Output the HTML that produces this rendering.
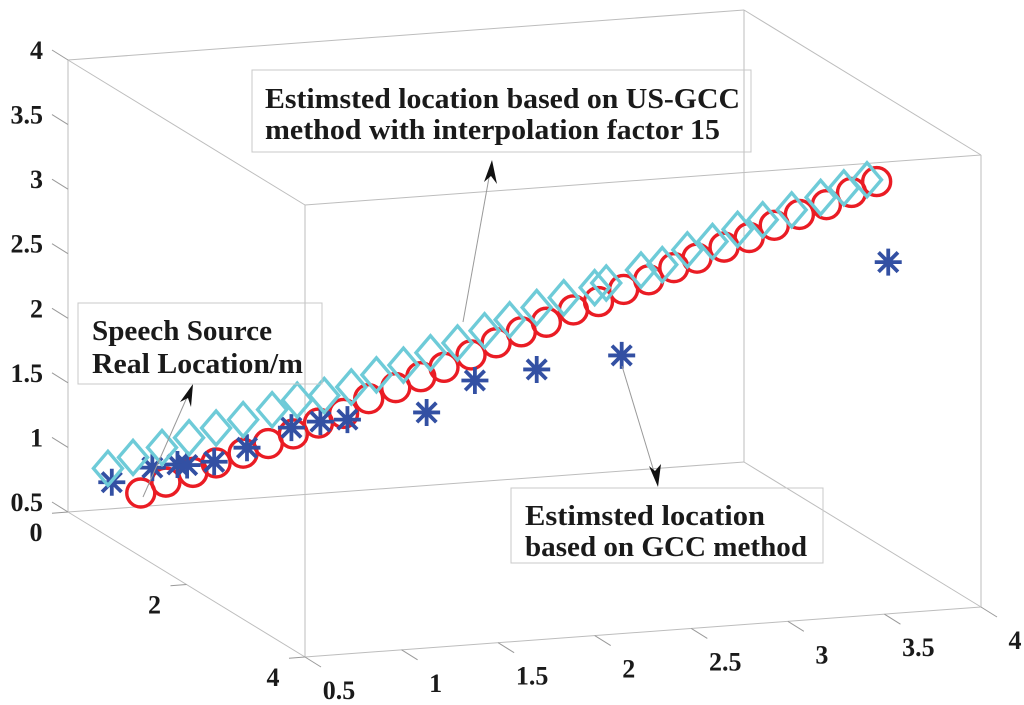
<!DOCTYPE html>
<html><head><meta charset="utf-8"><style>
html,body{margin:0;padding:0;background:#fff;}
svg{display:block;}
text{font-family:"Liberation Serif",serif;font-weight:bold;fill:#1a1a1a;}
</style></head><body>
<svg id="chart" width="1024" height="705" viewBox="0 0 1024 705" xmlns="http://www.w3.org/2000/svg">
<g id="box"></g>
<g id="ticks"></g>
<g id="marks"></g>
<g id="ann">
  <line x1="463" y1="322" x2="490" y2="172" stroke="#999" stroke-width="1"/>
  <polygon points="492,160 484,182 491,176 497,184" fill="#111"/>
  <line x1="143" y1="497" x2="188" y2="395" stroke="#999" stroke-width="1"/>
  <polygon points="193,384 180,402 188,398 191,407" fill="#111"/>
  <line x1="622" y1="366" x2="655" y2="475" stroke="#999" stroke-width="1"/>
  <polygon points="658,487 649,466 655,471 661,464" fill="#111"/>
  <rect x="252" y="70" width="499" height="82" fill="none" stroke="#c8c8c8" stroke-width="1"/>
  <text x="265" y="108" font-size="28" textLength="475" lengthAdjust="spacingAndGlyphs">Estimsted location based on US-GCC</text>
  <text x="265" y="139" font-size="28" textLength="455" lengthAdjust="spacingAndGlyphs">method with interpolation factor 15</text>
  <rect x="78" y="303" width="244" height="81" fill="none" stroke="#c8c8c8" stroke-width="1"/>
  <text x="92" y="340" font-size="28" textLength="180" lengthAdjust="spacingAndGlyphs">Speech Source</text>
  <text x="92" y="373" font-size="28" textLength="211" lengthAdjust="spacingAndGlyphs">Real Location/m</text>
  <rect x="511" y="488" width="312" height="75" fill="none" stroke="#c8c8c8" stroke-width="1"/>
  <text x="525" y="525" font-size="28" textLength="240" lengthAdjust="spacingAndGlyphs">Estimsted location</text>
  <text x="525" y="556" font-size="28" textLength="282" lengthAdjust="spacingAndGlyphs">based on GCC method</text>
</g>
</svg>
<script>
// tick values
const xTicks = [0.5, 1, 1.5, 2, 2.5, 3, 3.5, 4];
const xTickLabels = ["0.5","1","1.5","2","2.5","3","3.5","4"];
const yTicks = [0, 2, 4];
const yTickLabels = ["0","2","4"];
const zTicks = [0.5, 1, 1.5, 2, 2.5, 3, 3.5, 4];
const zTickLabels = ["0.5","1","1.5","2","2.5","3","3.5","4"];
// real location (circles)
const realX = [0.57,0.70,0.84,0.96,1.10,1.23,1.36,1.49,1.62,1.75,1.89,2.02,2.14,2.28,2.41,2.54,2.67,2.81,2.94,3.07,3.20,3.33,3.45,3.59,3.72,3.85,3.98,4.12,4.25,4.38];
const realZ = [0.92,0.99,1.05,1.11,1.17,1.23,1.29,1.36,1.42,1.52,1.59,1.66,1.72,1.80,1.88,1.95,2.01,2.09,2.14,2.22,2.28,2.36,2.42,2.49,2.55,2.63,2.70,2.76,2.84,2.91];
// US-GCC estimate (diamonds)
const usX = [0.40,0.53,0.68,0.82,0.96,1.10,1.25,1.38,1.52,1.66,1.79,1.93,2.07,2.21,2.35,2.48,2.62,2.76,2.92,2.98,3.16,3.27,3.40,3.53,3.66,3.79,3.94,4.09,4.21,4.33];
const usZ = [1.13,1.20,1.26,1.32,1.38,1.43,1.49,1.55,1.57,1.62,1.70,1.76,1.84,1.90,1.98,2.05,2.13,2.19,2.25,2.28,2.36,2.39,2.49,2.54,2.62,2.68,2.74,2.82,2.88,2.93];
// GCC estimate (stars)
const gccX = [0.42,0.63,0.76,0.81,0.95,1.12,1.35,1.50,1.64,2.05,2.30,2.62,3.06,4.44];
const gccZ = [1.02,1.11,1.12,1.11,1.12,1.21,1.34,1.37,1.37,1.38,1.60,1.65,1.71,2.28];
const depthY = 1;

const NS = "http://www.w3.org/2000/svg";
const O = [68,512], EX = [676,-50], EY = [237,145], EZ = [0,-452];
function proj(x,y,z){
  const a=(x-0.5)/3.5, b=y/4, c=(z-0.5)/3.5;
  return [O[0]+a*EX[0]+b*EY[0]+c*EZ[0], O[1]+a*EX[1]+b*EY[1]+c*EZ[1]];
}
function mk(tag,attrs,parent){const e=document.createElementNS(NS,tag);for(const k in attrs)e.setAttribute(k,attrs[k]);parent.appendChild(e);return e;}
const box=document.getElementById('box'), ticks=document.getElementById('ticks'), marks=document.getElementById('marks');
const corners=[[0.5,0,0.5],[4,0,0.5],[4,4,0.5],[0.5,4,0.5],[0.5,0,4],[4,0,4],[4,4,4],[0.5,4,4]].map(p=>proj(...p));
const edges=[[0,1],[1,2],[2,3],[3,0],[4,5],[5,6],[6,7],[7,4],[0,4],[1,5],[2,6],[3,7]];
edges.forEach(([i,j])=>{
  const l=mk('line',{x1:corners[i][0],y1:corners[i][1],x2:corners[j][0],y2:corners[j][1],stroke:'#bdbdbd','stroke-width':1},box);
  
  
});
xTicks.forEach((v,i)=>{
  const p=proj(v,4,0.5);
  const t=mk('line',{x1:p[0],y1:p[1],x2:p[0]+16,y2:p[1]+10,stroke:'#999','stroke-width':1},ticks);
  
  
  const tx=mk('text',{x:p[0]+34,y:p[1]+42,'font-size':26,'text-anchor':'middle'},ticks);
  tx.textContent=xTickLabels[i];
  
  
});
yTicks.forEach((v,i)=>{
  const p=proj(0.5,v,0.5);
  const t=mk('line',{x1:p[0],y1:p[1],x2:p[0]-16,y2:p[1]+1.2,stroke:'#999','stroke-width':1},ticks);
  
  
  const tx=mk('text',{x:p[0]-32,y:p[1]+29,'font-size':26,'text-anchor':'middle'},ticks);
  tx.textContent=yTickLabels[i];
  
  
});
zTicks.forEach((v,i)=>{
  const p=proj(0.5,0,v);
  const t=mk('line',{x1:p[0],y1:p[1],x2:p[0]-16,y2:p[1]-10,stroke:'#999','stroke-width':1},ticks);
  
  
  const tx=mk('text',{x:43,y:p[1]-1,'font-size':26,'text-anchor':'end'},ticks);
  tx.textContent=zTickLabels[i];
  
  
});
realX.forEach((x,i)=>{
  const p=proj(x,depthY,realZ[i]);
  const c=mk('circle',{cx:p[0],cy:p[1],r:14,fill:'none',stroke:'#ea1c24','stroke-width':3.4},marks);
  
  
});
gccX.forEach((x,i)=>{
  const p=proj(x,depthY,gccZ[i]);
  const r=13.5, d=r*0.72;
  const s=mk('path',{d:`M${p[0]-r},${p[1]}H${p[0]+r}M${p[0]},${p[1]-r}V${p[1]+r}M${p[0]-d},${p[1]-d}L${p[0]+d},${p[1]+d}M${p[0]-d},${p[1]+d}L${p[0]+d},${p[1]-d}`,stroke:'#3350a3','stroke-width':3.8,fill:'none'},marks);
  
  
});
usX.forEach((x,i)=>{
  const p=proj(x,depthY,usZ[i]);
  const w=14.5, h=17;
  const dm=mk('polygon',{points:`${p[0]},${p[1]-h} ${p[0]+w},${p[1]} ${p[0]},${p[1]+h} ${p[0]-w},${p[1]}`,fill:'none',stroke:'#6ecbd8','stroke-width':3.4},marks);
  
  
});
</script>
</body></html>
